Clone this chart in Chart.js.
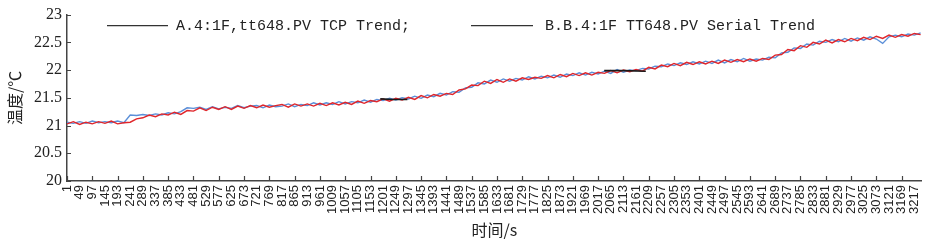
<!DOCTYPE html>
<html>
<head>
<meta charset="utf-8">
<script src="https://cdn.jsdelivr.net/npm/chart.js@4"></script>
<style>
  body { margin: 0; background: #fff; }
  #wrap { width: 934px; height: 242px; position: relative; }
</style>
</head>
<body>
<div id="wrap"><canvas id="trendChart"></canvas></div>
<script>
// --- DATA ---
// x tick labels (seconds)
const tickLabels = [1, 49, 97, 145, 193, 241, 289, 337, 385, 433, 481, 529, 577, 625, 673, 721, 769, 817, 865, 913,
  961, 1009, 1057, 1105, 1153, 1201, 1249, 1297, 1345, 1393, 1441, 1489, 1537, 1585, 1633, 1681, 1729, 1777, 1825, 1873,
  1921, 1969, 2017, 2065, 2113, 2161, 2209, 2257, 2305, 2353, 2401, 2449, 2497, 2545, 2593, 2641, 2689, 2737, 2785, 2833,
  2881, 2929, 2977, 3025, 3073, 3121, 3169, 3217];
const yTicks = [20, 20.5, 21, 21.5, 22, 22.5, 23];

const seriesNames = ['A.4:1F,tt648.PV TCP Trend;', 'B.B.4:1F TT648.PV Serial Trend'];
const sampleStep = 24; // seconds between read-off samples, first sample at t = 1

// A: TCP trend (red)
const tcpTrend = [
  21.03, 21.07, 21.02, 21.06, 21.03, 21.07, 21.04, 21.08, 21.03, 21.05,
  21.06, 21.12, 21.14, 21.19, 21.16, 21.21, 21.19, 21.24, 21.20, 21.27,
  21.26, 21.32, 21.27, 21.33, 21.29, 21.34, 21.29, 21.35, 21.31, 21.36,
  21.32, 21.37, 21.33, 21.36, 21.38, 21.33, 21.39, 21.35, 21.39, 21.35,
  21.40, 21.36, 21.41, 21.37, 21.42, 21.38, 21.44, 21.40, 21.45, 21.43,
  21.48, 21.44, 21.49, 21.46, 21.51, 21.47, 21.54, 21.50, 21.56, 21.53,
  21.58, 21.56, 21.64, 21.66, 21.73, 21.72, 21.80, 21.76, 21.83, 21.78,
  21.84, 21.80, 21.86, 21.83, 21.87, 21.85, 21.90, 21.86, 21.92, 21.88,
  21.94, 21.90, 21.95, 21.91, 21.96, 21.94, 21.99, 21.95, 22.00, 21.97,
  22.01, 21.98, 22.05, 22.02, 22.09, 22.06, 22.12, 22.08, 22.14, 22.10,
  22.15, 22.11, 22.16, 22.12, 22.18, 22.14, 22.19, 22.15, 22.20, 22.16,
  22.21, 22.19, 22.27, 22.28, 22.37, 22.35, 22.44, 22.41, 22.50, 22.47,
  22.54, 22.49, 22.55, 22.51, 22.57, 22.53, 22.59, 22.55, 22.61, 22.57,
  22.63, 22.59, 22.64, 22.61, 22.66, 22.64
];

// B: Serial trend (blue)
const serialTrend = [
  21.06, 21.04, 21.07, 21.04, 21.08, 21.05, 21.07, 21.05, 21.08, 21.05,
  21.19, 21.18, 21.20, 21.18, 21.21, 21.19, 21.23, 21.21, 21.25, 21.32,
  21.31, 21.33, 21.29, 21.34, 21.30, 21.33, 21.31, 21.36, 21.32, 21.35,
  21.36, 21.32, 21.37, 21.34, 21.35, 21.39, 21.34, 21.38, 21.36, 21.41,
  21.37, 21.41, 21.38, 21.43, 21.39, 21.43, 21.41, 21.46, 21.42, 21.47,
  21.45, 21.49, 21.46, 21.50, 21.48, 21.53, 21.49, 21.55, 21.52, 21.58,
  21.55, 21.61, 21.60, 21.68, 21.69, 21.77, 21.75, 21.82, 21.78, 21.84,
  21.80, 21.85, 21.82, 21.88, 21.84, 21.89, 21.86, 21.91, 21.87, 21.93,
  21.90, 21.95, 21.91, 21.96, 21.93, 21.98, 21.94, 22.01, 21.96, 22.00,
  21.99, 22.03, 22.02, 22.07, 22.06, 22.11, 22.08, 22.13, 22.10, 22.15,
  22.11, 22.16, 22.12, 22.18, 22.13, 22.19, 22.15, 22.21, 22.16, 22.20,
  22.18, 22.23, 22.22, 22.31, 22.32, 22.40, 22.39, 22.47, 22.45, 22.52,
  22.50, 22.55, 22.51, 22.57, 22.52, 22.58, 22.54, 22.60, 22.56, 22.48,
  22.60, 22.63, 22.60, 22.65, 22.63, 22.67
];

// short flat black stretches
const flatTimes = [1190, 1240, 1293, null, 2040, 2120, 2198];
const flatValues = [21.48, 21.47, 21.47, null, 21.99, 21.99, 21.98];

// --- CHART ---
const toPoints = (vals) => vals.map((v, i) => ({ x: 1 + i * sampleStep, y: v }));
const flatPoints = flatTimes.map((t, i) => ({ x: t === null ? 1700 : t, y: flatValues[i] }));

// draws short inward tick marks and the legend inside the plot
const extrasPlugin = {
  id: 'extras',
  afterDraw(chart) {
    const ctx = chart.ctx;
    const xs = chart.scales.x, ys = chart.scales.y;
    ctx.save();
    ctx.strokeStyle = '#444';
    ctx.lineWidth = 1.2;
    ctx.beginPath();
    yTicks.forEach(v => {
      const py = Math.round(ys.getPixelForValue(v)) + 0.5;
      ctx.moveTo(xs.left, py); ctx.lineTo(xs.left + 4, py);
    });
    tickLabels.forEach((v, i) => {
      if (i % 2) return;
      const px = Math.round(xs.getPixelForValue(v)) + 0.5;
      ctx.moveTo(px, ys.bottom); ctx.lineTo(px, ys.bottom - 5);
    });
    ctx.stroke();

    // legend
    const legendY = chart.chartArea.top + 11;
    const items = [{ x0: 107, x1: 168, tx: 176 }, { x0: 471, x1: 533, tx: 545 }];
    ctx.strokeStyle = '#333';
    ctx.lineWidth = 1.3;
    ctx.fillStyle = '#222';
    ctx.font = '15px "Liberation Mono"';
    ctx.textBaseline = 'middle';
    items.forEach((it, i) => {
      ctx.beginPath();
      ctx.moveTo(it.x0, legendY); ctx.lineTo(it.x1, legendY);
      ctx.stroke();
      ctx.fillText(seriesNames[i], it.tx, legendY);
    });
    ctx.restore();
  }
};

new Chart(document.getElementById('trendChart'), {
  type: 'line',
  data: {
    datasets: [
      { label: 'flat', data: flatPoints, borderColor: '#1a1a1a', borderWidth: 1.6, order: 0, spanGaps: false },
      { label: seriesNames[0], data: toPoints(tcpTrend), borderColor: '#e0262b', borderWidth: 1.4, order: 1 },
      { label: seriesNames[1], data: toPoints(serialTrend), borderColor: '#5b8fd8', borderWidth: 1.4, order: 2 }
    ]
  },
  options: {
    responsive: true,
    maintainAspectRatio: false,
    animation: false,
    parsing: false,
    layout: { padding: { top: 14, right: 12, left: 0, bottom: 0 } },
    elements: { point: { radius: 0 }, line: { tension: 0 } },
    plugins: { legend: { display: false }, tooltip: { enabled: false } },
    scales: {
      x: {
        type: 'linear',
        min: 1,
        max: 3245,
        afterBuildTicks: (axis) => { axis.ticks = tickLabels.map(v => ({ value: v })); },
        afterFit: (scale) => { scale.height = 61; },
        grid: { display: false, drawTicks: false },
        border: { display: true, color: '#444', width: 1.5 },
        ticks: {
          autoSkip: false,
          minRotation: 90,
          maxRotation: 90,
          padding: 4,
          color: '#222',
          font: { family: 'Liberation Sans', size: 13 },
          callback: (v) => String(v)
        },
        title: {
          display: true,
          text: '时间/s',
          color: '#222',
          padding: { top: 0, bottom: 2 },
          font: { family: '"Noto Sans CJK SC"', size: 16 }
        }
      },
      y: {
        min: 20,
        max: 23,
        afterBuildTicks: (axis) => { axis.ticks = yTicks.map(v => ({ value: v })); },
        afterFit: (scale) => { scale.width = 67; },
        grid: { display: false, drawTicks: false },
        border: { display: true, color: '#444', width: 1.5 },
        ticks: {
          padding: 5,
          color: '#222',
          font: { family: 'Liberation Serif', size: 16 },
          callback: (v) => String(v)
        },
        title: {
          display: true,
          text: '温度/℃',
          color: '#222',
          padding: { top: 5, bottom: 0 },
          font: { family: '"Noto Sans CJK SC"', size: 16 }
        }
      }
    }
  },
  plugins: [extrasPlugin]
});
</script>
</body>
</html>
